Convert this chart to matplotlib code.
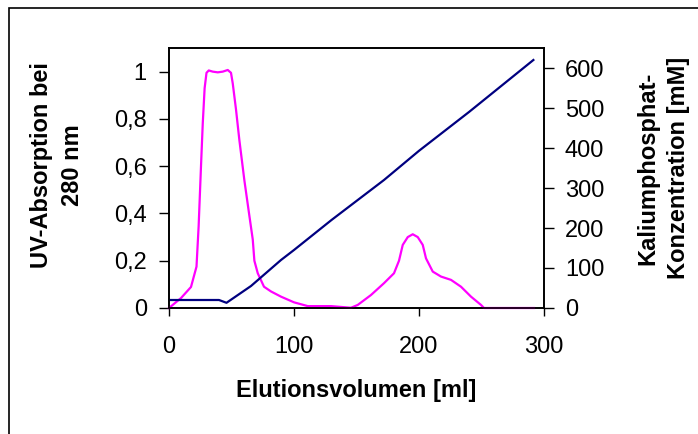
import matplotlib
matplotlib.use("Agg")
import matplotlib.pyplot as plt
from matplotlib.patches import Rectangle

plt.rcParams['font.family'] = ['Liberation Sans', 'DejaVu Sans']

# UV absorption at 280 nm (magenta)
uv_ml = [0, 9.6, 17.6, 22, 23.7, 25.6, 27, 28.5, 30, 31.8, 35, 39, 43, 47, 49.6, 51,
         53.6, 56.3, 60.3, 64.3, 67, 68.3, 71, 76, 81.6, 89.6, 100, 111, 129.6, 145.6,
         151, 161.6, 172, 180, 184, 187, 191, 195, 199, 203, 205.6, 211, 217.6, 225.6,
         233.6, 241.6, 249.6, 252, 292]
uv_abs = [0, 0.042, 0.089, 0.175, 0.345, 0.6, 0.78, 0.93, 0.995, 1.005, 1.0, 0.997, 1.0, 1.007,
          0.995, 0.95, 0.84, 0.71, 0.54, 0.39, 0.29, 0.2, 0.147, 0.09, 0.07, 0.048, 0.024,
          0.008, 0.008, 0.001, 0.013, 0.055, 0.105, 0.147, 0.2, 0.267, 0.30, 0.312, 0.30,
          0.267, 0.21, 0.154, 0.133, 0.119, 0.09, 0.048, 0.013, 0.0, 0.0]

# potassium phosphate gradient (navy)
kp_ml = [0, 20, 40, 46, 65.6, 89.6, 100, 130, 172, 200, 240, 291.5]
kp_mm = [20, 20, 20, 13, 55, 120, 145, 220, 320, 393, 490, 620]

x_ticks = [0, 100, 200, 300]
left_ticks = [0, 0.2, 0.4, 0.6, 0.8, 1]
left_labels = ['0', '0,2', '0,4', '0,6', '0,8', '1']
right_ticks = [0, 100, 200, 300, 400, 500, 600]

W, H = 698, 434
fig = plt.figure(figsize=(W / 100, H / 100), dpi=100)
ax = fig.add_axes([169 / W, 1 - 308 / H, (544 - 169) / W, (308 - 48) / H])
ax2 = ax.twinx()

ax.plot(uv_ml, uv_abs, color='#FF00FF', lw=1.6, clip_on=False, zorder=3)
ax2.plot(kp_ml, kp_mm, color='#000080', lw=1.6, zorder=2)

ax.set_xlim(0, 300)
ax.set_ylim(0, 1.1)
ax2.set_ylim(0, 650)
ax.set_xticks(x_ticks)
ax.set_yticks(left_ticks)
ax.set_yticklabels(left_labels)
ax2.set_yticks(right_ticks)

for a in (ax, ax2):
    for s in a.spines.values():
        s.set_linewidth(1.2)
ax.tick_params(axis='x', direction='out', length=6, width=1, pad=14, labelsize=17)
ax.tick_params(axis='y', direction='out', length=7, width=1, pad=9, labelsize=17)
ax2.tick_params(axis='y', direction='out', length=7, width=1, pad=8, labelsize=17)

fig.text(57 / W, 1 - 165 / H, 'UV-Absorption bei\n280 nm', rotation=90, ha='center', va='center',
         fontsize=17, fontweight='bold', linespacing=1.4)
fig.text(663 / W, 1 - 168 / H, 'Kaliumphosphat-\nKonzentration [mM]', rotation=90, ha='center',
         va='center', fontsize=17, fontweight='bold', linespacing=1.4)
fig.text(356 / W, 1 - 390 / H, 'Elutionsvolumen [ml]', ha='center', va='center',
         fontsize=17, fontweight='bold')

# outer chart frame (cut at right and bottom)
fig.patches.append(Rectangle((9 / W, -0.1), 1.2, 1 - 8 / H + 0.1, transform=fig.transFigure,
                             fill=False, edgecolor='black', lw=1.2))

fig.savefig('out.png', dpi=100)
